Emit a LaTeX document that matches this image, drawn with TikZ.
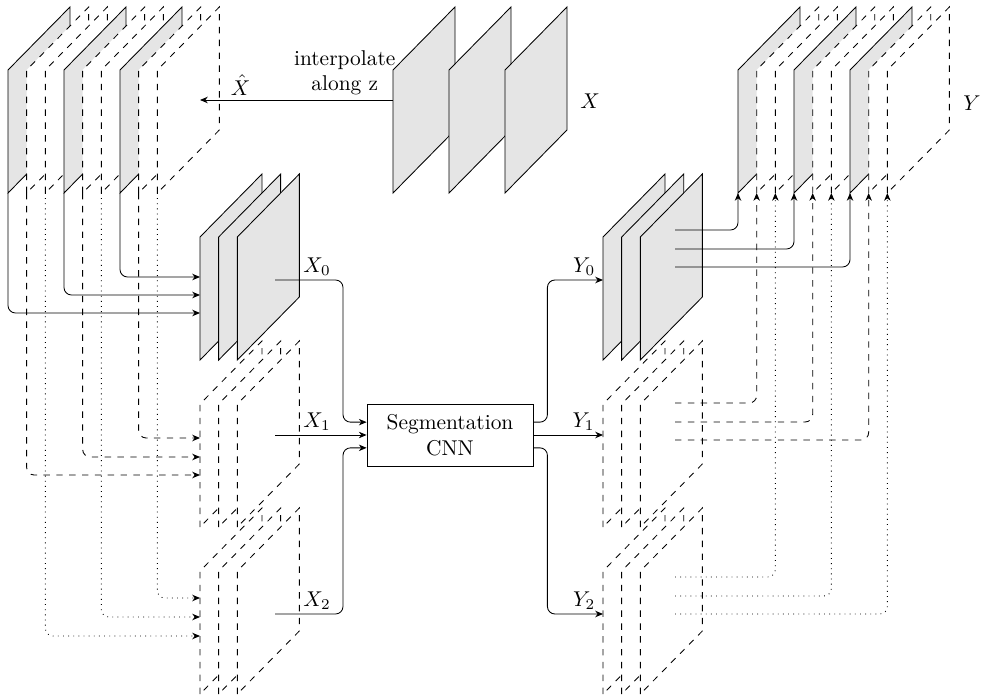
\documentclass[tikz,border=0pt]{standalone}
\usetikzlibrary{arrows.meta}

\tikzset{
  sheet/.style={draw,fill=gray!20},
  ghost/.style={draw,dashed,fill=white},
  lab/.style={above,inner sep=2pt},
}
% one slice, bottom left corner at (#2,#3)
\newcommand{\slab}[3]{\draw[#1] (#2,#3) -- ++(0,-123) -- ++(62,-63) -- ++(0,123) -- cycle;}
% nine slices, every third one is given
\newcommand{\volume}[3]{%
  \foreach \k in {0,...,8} {
    \pgfmathtruncatemacro{\r}{mod(\k,3)}
    \ifnum\r=0 \slab{sheet}{#1+18.667*\k}{#2}\else\slab{ghost}{#1+18.667*\k}{#2}\fi
    \coordinate (#3-\k) at (#1+18.667*\k,#2);
  }}

\begin{document}
\begin{tikzpicture}[x=0.467pt,y=-0.467pt,>={Stealth[length=3.6pt,width=3pt,inset=1.1pt]}]
  \useasboundingbox (0,0) rectangle (987,696);

  % given volume
  \foreach \i in {0,1,2} {\slab{sheet}{393+56*\i}{193}}
  \coordinate (xin) at (393,100);
  \coordinate (xhat) at (200,100);
  \node (xlab) at (590,101) {$X$};

  % interpolated volume and label volume
  \volume{8}{193}{xh}
  \volume{738}{193}{yt}
  \node (ylab) at (972,103) {$Y$};

  % sub-volumes before and after the network
  \foreach \yb/\st in {694/ghost,527/ghost,360/sheet} {
    \foreach \i in {0,1,2} {
      \slab{\st}{200+18.667*\i}{\yb}
      \slab{\st}{603+18.667*\i}{\yb}
    }
  }
  \coordinate (x0out) at (275,280);
  \coordinate (x1out) at (275,435);
  \coordinate (x2out) at (275,614);
  \coordinate (y0in) at (603,280);
  \coordinate (y1in) at (603,435);
  \coordinate (y2in) at (603,614);

  \node[draw,minimum width=77.5pt,minimum height=29pt,align=center,inner sep=1pt] (cnn) at (450,435) {Segmentation\\CNN};

  \draw[->] (xin) -- node[lab,pos=0.25,align=center]{interpolate\\along z} node[lab,pos=0.79]{$\hat{X}$} (xhat);

  % split into three sub-volumes
  \foreach \k/\yy/\ls in {6/277/solid,3/295/solid,0/313/solid,7/438/dashed,4/457/dashed,1/475/dashed,8/598/dotted,5/617/dotted,2/636/dotted} {
    \coordinate (a\k) at (200,\yy);
    \draw[->,\ls,rounded corners=3.5pt] (xh-\k) |- (a\k);
  }

  % network
  \draw[->,rounded corners=3.5pt] (x0out) -- node[lab,pos=0.62]{$X_0$} ++(68,0) |- ([yshift=6pt]cnn.west);
  \draw[->] (x1out) -- node[lab,pos=0.46]{$X_1$} (cnn.west);
  \draw[->,rounded corners=3.5pt] (x2out) -- node[lab,pos=0.62]{$X_2$} ++(68,0) |- ([yshift=-6pt]cnn.west);
  \draw[->,rounded corners=3.5pt] ([yshift=6pt]cnn.east) -- ++(14,0) |- node[lab,pos=0.83]{$Y_0$} (y0in);
  \draw[->] (cnn.east) -- node[lab,pos=0.72]{$Y_1$} (y1in);
  \draw[->,rounded corners=3.5pt] ([yshift=-6pt]cnn.east) -- ++(14,0) |- node[lab,pos=0.83]{$Y_2$} (y2in);

  % merge back into one volume
  \foreach \k/\yy/\ls in {0/230/solid,3/249/solid,6/267/solid,1/403/dashed,4/422/dashed,7/440/dashed,2/577/dotted,5/596/dotted,8/614/dotted} {
    \coordinate (b\k) at (675,\yy);
    \draw[->,\ls,rounded corners=3.5pt] (b\k) -| (yt-\k);
  }
\end{tikzpicture}
\end{document}
